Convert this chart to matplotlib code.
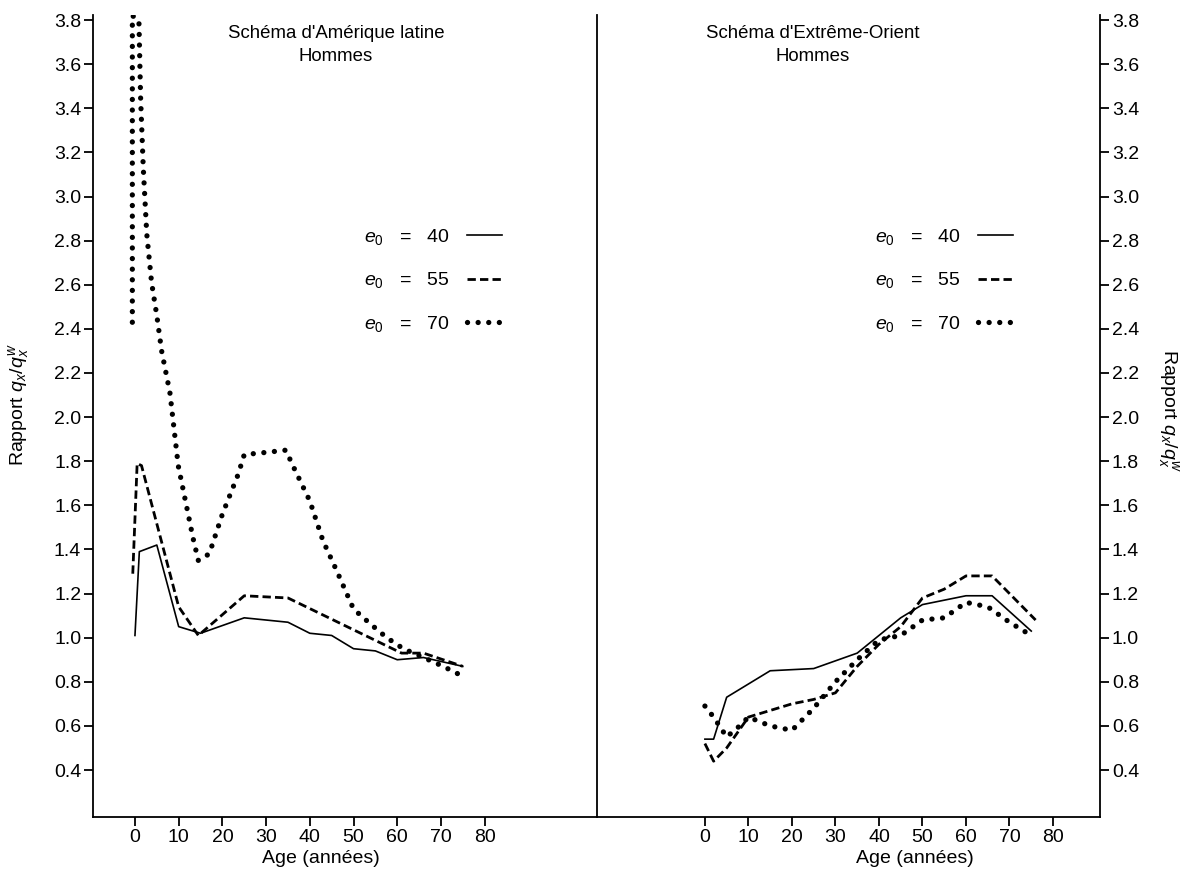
import matplotlib
matplotlib.use('Agg')
import matplotlib.pyplot as plt
from matplotlib.lines import Line2D

plt.rcParams['font.family'] = ['Liberation Sans', 'DejaVu Sans']
plt.rcParams['mathtext.fontset'] = 'custom'
plt.rcParams['mathtext.rm'] = 'Liberation Sans'
plt.rcParams['mathtext.it'] = 'Liberation Sans:italic'

# ---------------- data ----------------
# Left panel: Schéma d'Amérique latine, Hommes
la40_age = [0, 1, 5, 10, 15, 25, 35, 40, 45, 50, 55, 60, 66, 75]
la40_val = [1.01, 1.39, 1.42, 1.05, 1.02, 1.09, 1.07, 1.02, 1.01, 0.95, 0.94, 0.90, 0.91, 0.87]

la55_age = [-0.5, 0.5, 1.5, 10, 14.5, 25, 35, 61, 66, 75]
la55_val = [1.29, 1.79, 1.78, 1.14, 1.01, 1.19, 1.18, 0.93, 0.93, 0.87]

la70_age = [-0.6, -0.6, 0.9, 1.3, 1.9, 2.7, 3.8, 5, 6.1, 8, 9.9, 13.3, 14.5, 17, 20,
            23.6, 25, 30, 34.5, 36.6, 40, 43, 46, 50, 54, 57.6, 61.4, 66, 70.5, 75]
la70_val = [2.43, 3.82, 3.80, 3.44, 3.13, 2.83, 2.61, 2.46, 2.30, 2.11, 1.78, 1.45, 1.35, 1.38, 1.56,
            1.74, 1.83, 1.84, 1.85, 1.76, 1.62, 1.44, 1.31, 1.13, 1.06, 1.00, 0.95, 0.91, 0.87, 0.825]

# Right panel: Schéma d'Extrême-Orient, Hommes
eo40_age = [0, 2, 5, 15, 25, 35, 45, 50, 60, 66, 75]
eo40_val = [0.54, 0.54, 0.73, 0.85, 0.86, 0.93, 1.09, 1.15, 1.19, 1.19, 1.03]

eo55_age = [0, 2, 5, 10, 20, 25, 30, 35, 40, 45, 50, 55, 60, 66, 76]
eo55_val = [0.52, 0.44, 0.50, 0.64, 0.70, 0.72, 0.75, 0.87, 0.97, 1.05, 1.18, 1.22, 1.28, 1.28, 1.08]

eo70_age = [0, 2, 5, 8, 10, 15, 20, 25, 30, 35, 40, 45, 50, 55, 60, 65, 70, 75]
eo70_val = [0.69, 0.64, 0.55, 0.60, 0.64, 0.60, 0.58, 0.68, 0.80, 0.90, 0.99, 1.01, 1.08, 1.09,
            1.16, 1.14, 1.07, 1.01]

x_ticks = [0, 10, 20, 30, 40, 50, 60, 70, 80]
y_ticks = [0.4, 0.6, 0.8, 1.0, 1.2, 1.4, 1.6, 1.8, 2.0, 2.2, 2.4, 2.6, 2.8, 3.0, 3.2, 3.4, 3.6, 3.8]
legend_labels = [r'$e_0$   =   40', r'$e_0$   =   55', r'$e_0$   =   70']

# ---------------- styles ----------------
st40 = dict(color='black', lw=1.2, linestyle='-')
st55 = dict(color='black', lw=2.0, linestyle=(0, (3.0, 1.5)))
st70 = dict(color='black', lw=3.8, linestyle=(0, (0.01, 2.0)), dash_capstyle='round')

W, H = 1187, 871
fig = plt.figure(figsize=(W / 100, H / 100), dpi=100)
bot_px, top_px = 817, 15
axL = fig.add_axes([93 / W, (H - bot_px) / H, 504 / W, (bot_px - top_px) / H])
axR = fig.add_axes([597 / W, (H - bot_px) / H, 503 / W, (bot_px - top_px) / H])

ylim = (0.187, 3.823)
for ax, xl in ((axL, (-9.6, 105.7)), (axR, (-24.8, 90.8))):
    ax.set_xlim(*xl)
    ax.set_ylim(*ylim)
    ax.set_xticks(x_ticks)
    ax.set_yticks(y_ticks)
    ax.set_yticklabels([f'{v:.1f}' for v in y_ticks])
    ax.spines['top'].set_visible(False)
    for s in ax.spines.values():
        s.set_linewidth(1.3)
    ax.tick_params(direction='out', length=6.5, width=1.3, labelsize=14, pad=2)
    ax.patch.set_visible(False)

axL.spines['right'].set_visible(False)
axR.yaxis.tick_right()
axR.yaxis.set_label_position('right')

# curves
axL.plot(la40_age, la40_val, **st40)
axL.plot(la55_age, la55_val, **st55)
axL.plot(la70_age, la70_val, **st70)
axR.plot(eo40_age, eo40_val, **st40)
axR.plot(eo55_age, eo55_val, **st55)
axR.plot(eo70_age, eo70_val, **st70)

handles = [Line2D([], [], **st40), Line2D([], [], **st55), Line2D([], [], **st70)]
for ax, lx in ((axL, (364 - 93) / 504), (axR, (875 - 597) / 503)):
    ax.legend(handles, legend_labels, loc='upper left',
              bbox_to_anchor=(lx, (bot_px - 227) / (bot_px - top_px)),
              frameon=False, markerfirst=False, fontsize=14, handlelength=1.8,
              handletextpad=0.9, labelspacing=1.2, borderpad=0, borderaxespad=0)

axL.text((336 - 93) / 504, 0.988, "Schéma d'Amérique latine\nHommes", transform=axL.transAxes,
         ha='center', va='top', fontsize=13.4, linespacing=1.5)
axR.text((813 - 597) / 503, 0.988, "Schéma d'Extrême-Orient\nHommes", transform=axR.transAxes,
         ha='center', va='top', fontsize=13.4, linespacing=1.5)

axL.set_xlabel('Age (années)', fontsize=14)
axL.xaxis.set_label_coords((321 - 93) / 504, -0.041)
axR.set_xlabel('Age (années)', fontsize=14)
axR.xaxis.set_label_coords((915 - 597) / 503, -0.041)

axL.set_ylabel(r'Rapport $q_x/q^w_x$', fontsize=14)
axL.yaxis.set_label_coords((31 - 93) / 504, 0.514)
axR.set_ylabel(r'Rapport $q_x/q^w_x$', fontsize=14, rotation=270)
axR.yaxis.set_label_coords((1181 - 597) / 503, 0.507)

fig.savefig('out.png', dpi=100)
